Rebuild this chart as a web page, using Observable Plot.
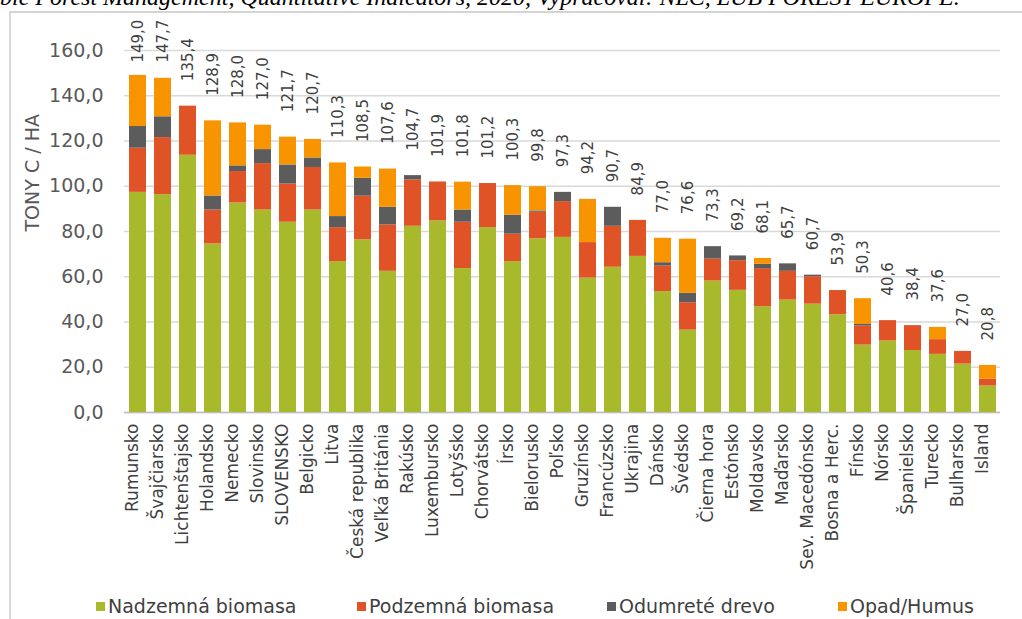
<!DOCTYPE html>
<html>
<head>
<meta charset="utf-8">
<script src="https://cdn.jsdelivr.net/npm/d3@7"></script>
<script src="https://cdn.jsdelivr.net/npm/@observablehq/plot@0.6"></script>
<style>
  body { margin: 0; background: #fff; width: 1022px; height: 619px; overflow: hidden; position: relative; font-family: "DejaVu Sans", sans-serif; }
  #cap { position: absolute; left: 0; top: -15px; font: italic 24px "Liberation Serif", serif; line-height: 1; white-space: nowrap; color: #000; }
  #frame { position: absolute; left: 9px; top: 11px; right: -4px; bottom: -4px; border-left: 2px solid #d9d9d9; border-top: 2px solid #d4d4d4; }
  #chart { position: absolute; left: 0; top: 0; }
  #chart svg { overflow: visible; }
  #legend { position: absolute; left: 0; top: 592px; width: 1022px; height: 27px; }
  .li { position: absolute; top: 3px; display: flex; align-items: center; font-size: 19px; color: #404040; white-space: nowrap; }
  .sw { width: 9px; height: 9px; margin-right: 3px; }
</style>
</head>
<body>
<div id="cap">ble Forest Management, Quantitative Indicators, 2020, Vypracoval: NLC, LUB FOREST EUROPE.</div>
<div id="frame"></div>
<div id="chart"></div>
<div id="legend"></div>
<script>
const countries = ["Rumunsko","Švajčiarsko","Lichtenštajsko","Holandsko","Nemecko","Slovinsko","SLOVENSKO","Belgicko","Litva","Česká republika","Veľká Británia","Rakúsko","Luxembursko","Lotyšsko","Chorvátsko","Írsko","Bielorusko","Poľsko","Gruzínsko","Francúzsko","Ukrajina","Dánsko","Švédsko","Čierna hora","Estónsko","Moldavsko","Maďarsko","Sev. Macedónsko","Bosna a Herc.","Fínsko","Nórsko","Španielsko","Turecko","Bulharsko","Island"];

const nadzemna = [97.3,96.3,113.7,74.5,92.6,89.5,84.1,89.5,66.7,76.3,62.4,82.3,84.7,63.6,81.7,66.7,76.8,77.4,59.4,64.2,69.0,53.4,36.4,58.1,54.0,46.8,49.7,47.9,43.2,29.8,31.6,27.4,25.7,21.4,11.7];
const podzemna = [19.5,25.2,21.7,15.0,13.9,20.5,16.9,18.8,15.0,19.3,20.5,20.5,17.2,20.5,19.5,12.1,11.7,15.8,15.7,18.1,15.9,11.3,12.1,9.7,13.1,16.8,12.7,12.1,10.7,8.4,9.0,11.0,6.5,5.6,3.0];
const odumrete = [9.6,9.2,0,6.2,2.5,6.2,8.4,4.2,4.9,7.9,7.8,1.9,0,5.4,0,8.4,0.6,4.1,0,8.4,0,1.5,4.2,5.5,2.1,1.9,3.3,0.7,0,0.7,0,0,0,0,0];
const opad = [22.6,17.0,0,33.2,19.0,10.8,12.3,8.2,23.7,5.0,16.9,0,0,12.3,0,13.1,10.7,0,19.1,0,0,10.8,23.9,0,0,2.6,0,0,0,11.4,0,0,5.4,0,6.1];
const totals = [149.0,147.7,135.4,128.9,128.0,127.0,121.7,120.7,110.3,108.5,107.6,104.7,101.9,101.8,101.2,100.3,99.8,97.3,94.2,90.7,84.9,77.0,76.6,73.3,69.2,68.1,65.7,60.7,53.9,50.3,40.6,38.4,37.6,27.0,20.8];

const seriesNames = ["Nadzemná biomasa","Podzemná biomasa","Odumreté drevo","Opad/Humus"];
const seriesColors = ["#a8b92b","#e05327","#5c5c5c","#f79400"];
const yTicks = [0,20,40,60,80,100,120,140,160];

const seriesValues = [nadzemna, podzemna, odumrete, opad];
const rows = [];
seriesNames.forEach((s, k) => countries.forEach((c, i) => rows.push({country: c, series: s, value: seriesValues[k][i]})));

const fmt = v => v.toFixed(1).replace(".", ",");
const textColor = "#404040";

const chart = Plot.plot({
  width: 1022,
  height: 590,
  marginLeft: 124,
  marginRight: 22,
  marginTop: 50,
  marginBottom: 178,
  style: {fontFamily: "DejaVu Sans, sans-serif", background: "transparent"},
  x: {domain: countries, paddingInner: 0.33, paddingOuter: 0.18, axis: null},
  y: {domain: [0, 160], axis: null},
  color: {domain: seriesNames, range: seriesColors},
  marks: [
    Plot.ruleY(yTicks, {stroke: "#d9d9d9", strokeWidth: 1.6}),
    Plot.ruleY([0], {stroke: "#bfbfbf", strokeWidth: 1.6}),
    Plot.barY(rows, {x: "country", y: "value", fill: "series"}),
    Plot.text(yTicks, {y: d => d, frameAnchor: "left", dx: -21, textAnchor: "end", text: d => fmt(d), fontSize: 19, fill: "#595959"}),
    Plot.text(countries, {x: d => d, frameAnchor: "bottom", rotate: -90, textAnchor: "end", dy: 11, fontSize: 17, fill: textColor}),
    Plot.text(countries, {x: d => d, y: (d, i) => Math.min(totals[i], 143.6), text: (d, i) => fmt(totals[i]), rotate: -90, textAnchor: "start", dy: -25, fontSize: 15, fill: textColor}),
    Plot.text(["TONY C / HA"], {frameAnchor: "left", dx: -92, rotate: -90, fontSize: 19, fill: "#595959"})
  ]
});
document.getElementById("chart").appendChild(chart);

const legendLefts = [96, 357, 607, 838];
const legend = document.getElementById("legend");
seriesNames.forEach((s, k) => {
  const item = document.createElement("div");
  item.className = "li";
  item.style.left = legendLefts[k] + "px";
  const sw = document.createElement("span");
  sw.className = "sw";
  sw.style.background = seriesColors[k];
  const tx = document.createElement("span");
  tx.textContent = s;
  item.appendChild(sw);
  item.appendChild(tx);
  legend.appendChild(item);
});
</script>
</body>
</html>
